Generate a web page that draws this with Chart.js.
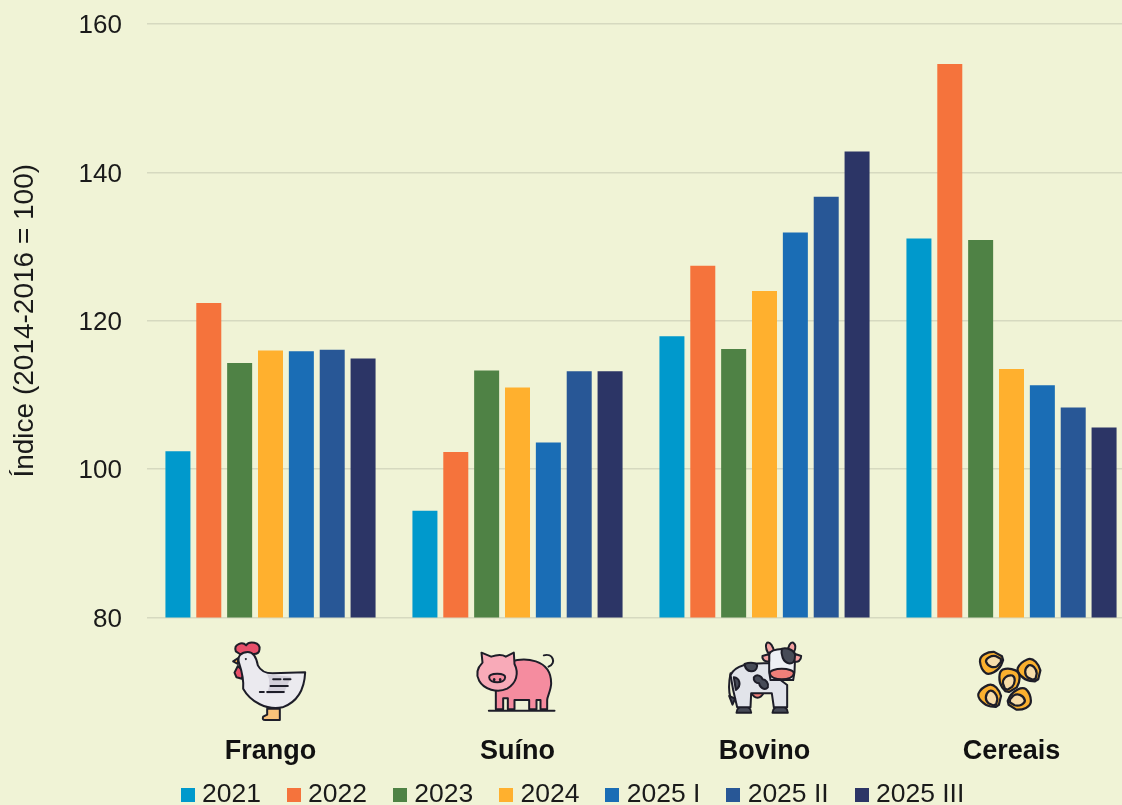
<!DOCTYPE html>
<html>
<head>
<meta charset="utf-8">
<title>Índice</title>
<script src="https://cdn.jsdelivr.net/npm/chart.js@4"></script>
<style>
html, body { margin: 0; padding: 0; width: 1122px; height: 805px; overflow: hidden; background: #f0f3d6; }
canvas { display: block; }
</style>
</head>
<body>
<canvas id="chart" width="1151" height="818"></canvas>
<script>
const categories = ['Frango', 'Suíno', 'Bovino', 'Cereais']
const series_names = ['2021', '2022', '2023', '2024', '2025 I', '2025 II', '2025 III']
const series_colors = ['#0099cc', '#f5733c', '#4f8245', '#ffb02e', '#1a6db5', '#285796', '#2c3566']

const values_2021 = [102.4, 94.4, 117.9, 131.1]
const values_2022 = [122.4, 102.3, 127.4, 154.6]
const values_2023 = [114.3, 113.3, 116.2, 130.9]
const values_2024 = [116.0, 111.0, 124.0, 113.5]
const values_2025_1 = [115.9, 103.6, 131.9, 111.3]
const values_2025_2 = [116.1, 113.2, 136.7, 108.3]
const values_2025_3 = [114.9, 113.2, 142.8, 105.6]
const all_values = [values_2021, values_2022, values_2023, values_2024, values_2025_1, values_2025_2, values_2025_3]

const y_ticks = [80, 100, 120, 140, 160]

const FONT = '"Liberation Sans", Arial, sans-serif'
const INK = '#1d1d28'

// icons are [fill, svg path, no outline] layers, drawn at 1/3 size, dx and dy move them under the category
const kernel = [
    ['#fbb02e', 'M-32 -8 C-32 -26 -8 -32 8 -30 L28 -16 L30 -6 L24 6 C14 22 -10 32 -20 24 C-28 16 -32 6 -32 -8 Z'],
    ['#f7dcaa', 'M-16 -6 C-16 -16 0 -22 12 -18 L24 -10 L24 -2 L14 8 C4 14 -12 10 -16 -6 Z']
]
const kernel_places = [
    [935, 100, -0.1], [1045, 125, 1.2], [982, 150, 2.0], [927, 202, 1.2], [1015, 205, 3.1]
]

const icons = [
    { dx: -70, dy: 630, layers: [
        ['#f9c27a', 'M200 236 L200 254 L188 260 Q184 270 194 270 L238 270 L238 236 Z'],
        ['#e8506a', 'M106 64 C98 42 126 34 137 46 C146 32 180 36 177 58 C176 70 166 72 160 72 L118 72 Z'],
        ['#e8506a', 'M112 108 L122 118 L130 128 L124 146 L108 142 L102 128 Z'],
        ['#ebeaef', 'M116 100 C108 78 124 66 142 66 C160 66 168 84 172 106 C180 122 196 130 216 130 L314 127 C312 170 296 214 246 232 C200 242 150 216 128 176 C130 150 124 124 116 100 Z'],
        ['#d3d0da', 'M200 133 L272 140 L250 190 L198 192 Q214 160 200 133 Z', true],
        ['#f9b04a', 'M113 84 L98 94 L112 102 Z'],
        [null, 'M218 148 L240 148 M250 148 L270 148 M210 168 L262 168 M200 186 L250 186 M178 186 L190 186'],
        [INK, 'M136 84 a3 3 0 1 0 0.1 0 Z', true]
    ] },
    { dx: -317, dy: 630, layers: [
        ['#f58c9f', 'M930 95 C970 82 1052 84 1052 160 C1052 180 1040 200 1040 210 L1040 238 L1020 238 L1020 210 L1008 210 L1008 238 L986 238 L986 210 L942 210 L942 238 L922 238 L922 205 L908 205 L908 238 L886 238 L886 180 Z'],
        ['#f8aab8', 'M843 68 L872 80 C890 74 906 74 916 80 L940 68 L942 102 C956 130 948 160 920 176 C890 190 850 178 836 152 C824 130 834 110 846 98 Z'],
        ['#f58c9f', 'M866 142 C866 128 914 128 914 142 C914 162 866 162 866 142 Z'],
        [null, 'M865 242 L1062 242 M1030 76 C1056 68 1070 100 1044 110'],
        [INK, 'M881 144 a4 5 0 1 0 0.1 0 Z M899 144 a4 5 0 1 0 0.1 0 Z', true]
    ] },
    { dx: -84, dy: 630, layers: [
        ['#f4a0a0', 'M260 38 C268 34 280 50 280 66 L262 68 C256 56 254 44 260 38 Z M338 38 C330 34 322 50 322 66 L340 68 C346 56 346 44 338 38 Z'],
        ['#ee7f7a', 'M212 188 C222 208 240 208 250 188 Z'],
        ['#474b57', 'M168 248 C168 222 212 222 212 248 Z M276 248 C276 222 322 222 322 248 Z'],
        ['#e2e4ea', 'M150 135 C165 105 200 98 268 100 L300 150 L320 165 L320 232 L280 232 L274 190 L212 190 L210 232 L170 232 L158 180 Z'],
        [null, 'M150 130 C144 160 146 190 150 204'],
        ['#474b57', 'M146 198 L164 206 L156 224 Z'],
        ['#eef0f4', 'M266 74 C270 52 336 50 344 74 L342 126 L338 150 L270 150 L266 126 Z'],
        ['#474b57', 'M304 56 C320 52 342 60 344 76 C346 94 336 102 324 100 C308 96 300 74 304 56 Z'],
        ['#f4a0a0', 'M266 72 L246 78 C244 90 254 96 266 94 Z M344 72 L362 78 C362 92 352 98 342 94 Z'],
        ['#ee7f7a', 'M268 130 C268 112 340 112 340 130 C340 154 268 154 268 130 Z'],
        ['#474b57', 'M192 102 C210 96 230 98 230 108 C228 130 196 130 192 102 Z M220 142 C228 130 244 138 246 148 C256 148 266 160 262 172 C252 184 236 170 236 160 C226 160 218 152 220 142 Z M160 142 C176 144 186 164 166 180 Z']
    ] },
    { dx: -331, dy: 630, layers: [] }
]

function drawLayers(ctx, layers) {
    layers.forEach(layer => {
        const path = new Path2D(layer[1])
        if (layer[0]) {
            ctx.fillStyle = layer[0]
            ctx.fill(path)
        }
        if (!layer[2]) {
            ctx.stroke(path)
        }
    })
}

const iconPlugin = {
    id: 'categoryIcons',
    afterDraw(chart) {
        const ctx = chart.ctx
        const x_scale = chart.scales.x
        ctx.save()
        ctx.lineWidth = 6
        ctx.lineJoin = 'round'
        ctx.lineCap = 'round'
        ctx.strokeStyle = INK
        icons.forEach((icon, i) => {
            ctx.save()
            ctx.translate(x_scale.getPixelForValue(i) + icon.dx, icon.dy)
            ctx.scale(1 / 3, 1 / 3)
            drawLayers(ctx, icon.layers)
            if (i === 3) {
                kernel_places.forEach(place => {
                    ctx.save()
                    ctx.translate(place[0], place[1])
                    ctx.rotate(place[2])
                    ctx.scale(1.12, 1.12)
                    drawLayers(ctx, kernel)
                    ctx.restore()
                })
            }
            ctx.restore()
        })
        ctx.restore()
    }
}

// legend swatch as image, so it can sit closer to its text than the default gap
function swatch(color) {
    const c = document.createElement('canvas')
    c.width = 14
    c.height = 14
    const g = c.getContext('2d')
    g.fillStyle = color
    g.fillRect(0, 0, 14, 14)
    return c
}

new Chart(document.getElementById('chart'), {
    type: 'bar',
    data: {
        labels: categories,
        datasets: series_names.map((name, i) => ({
            label: name,
            data: all_values[i],
            backgroundColor: series_colors[i],
            categoryPercentage: 216 / 247,
            barPercentage: 25 / 30.86
        }))
    },
    plugins: [iconPlugin],
    options: {
        responsive: false,
        animation: false,
        layout: { padding: { top: 24, left: 0, right: 0, bottom: 0 } },
        scales: {
            x: {
                grid: { display: false },
                border: { display: false },
                afterFit(scale) {
                    scale.height = 132
                    scale.paddingLeft = 0
                    // inset the plot only, the legend is centred on the full width
                    scale.paddingRight = 16
                    // labels reach below the axis box, next to the legend
                    scale._computeLabelArea = () => undefined
                },
                ticks: {
                    padding: 110,
                    autoSkip: false,
                    maxRotation: 0,
                    color: '#111111',
                    font: { family: FONT, size: 27, weight: 'bold' }
                }
            },
            y: {
                min: 80,
                max: 160,
                afterFit(scale) {
                    scale.width = 147
                    scale.paddingTop = 0
                    scale.paddingBottom = 0
                },
                afterBuildTicks(scale) { scale.ticks = y_ticks.map(v => ({ value: v })) },
                grid: { color: '#d6d9c0', lineWidth: 1.5, drawTicks: false },
                border: { display: false },
                ticks: {
                    padding: 25,
                    labelOffset: 2,
                    color: '#1a1a1a',
                    font: { family: FONT, size: 26 }
                },
                title: {
                    display: true,
                    text: 'Índice (2014-2016 = 100)',
                    color: '#1a1a1a',
                    padding: { top: 8, bottom: 0 },
                    font: { family: FONT, size: 28 }
                }
            }
        },
        plugins: {
            tooltip: { enabled: false },
            legend: {
                position: 'bottom',
                labels: {
                    usePointStyle: true,
                    pointStyleWidth: 2,
                    padding: 32,
                    color: '#1a1a1a',
                    font: { family: FONT, size: 26.5 },
                    generateLabels(chart) {
                        return Chart.defaults.plugins.legend.labels.generateLabels(chart).map((item, i) => {
                            item.pointStyle = swatch(series_colors[i])
                            return item
                        })
                    }
                }
            }
        }
    }
})
</script>
</body>
</html>
